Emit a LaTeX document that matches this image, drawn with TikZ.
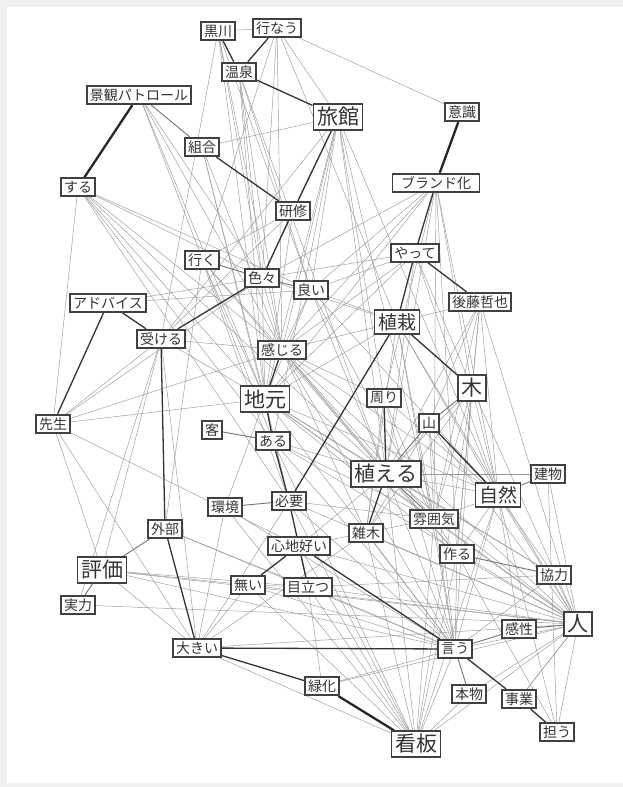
\documentclass[tikz,border=0pt]{standalone}
\usepackage{fontspec}
\setmainfont{Noto Sans CJK JP}
\usetikzlibrary{backgrounds}
\tikzset{
  wd/.style={draw=black!75, line width=1.8pt, fill=white, inner xsep=3pt, inner ysep=2.8pt, font=\fontsize{14}{14}\selectfont, text=black!80},
  bg/.style={wd, inner xsep=3.5pt, inner ysep=3pt, font=\fontsize{21}{21}\selectfont},
  md/.style={wd, inner xsep=3.5pt, inner ysep=3pt, font=\fontsize{19}{19}\selectfont},
  ew/.style={draw=gray!80, line width=0.45pt},
  em/.style={draw=black!55, line width=0.9pt},
  es/.style={draw=black!80, line width=1.3pt},
  et/.style={draw=black!85, line width=2.3pt}
}
\begin{document}
\begin{tikzpicture}[x=1pt,y=-1pt]
\useasboundingbox (0,0) rectangle (623,787);
% nodes
\node[wd] (kurokawa) at (218,31) {黒川};
\node[wd] (okonau) at (277,28) {行なう};
\node[wd] (onsen) at (239,72) {温泉};
\node[wd] (keikan) at (139,95) {景観パトロール};
\node[bg] (ryokan) at (338,117) {旅館};
\node[wd] (ishiki) at (462,112) {意識};
\node[wd] (kumiai) at (202,147) {組合};
\node[wd, minimum width=87pt] (brand) at (436,183) {ブランド化\hspace{8pt}};
\node[wd] (suru) at (78,187) {する};
\node[wd] (kenshu) at (293,211) {研修};
\node[wd] (yatte) at (415,253) {やって};
\node[wd] (iku) at (202,260) {行く};
\node[wd] (iroiro) at (262,278) {色々};
\node[wd] (yoi) at (311,290) {良い};
\node[wd] (advice) at (108,303) {アドバイス};
\node[wd] (ukeru) at (161,339) {受ける};
\node[wd] (goto) at (480,302) {後藤哲也};
\node[md] (shokusai) at (397,322) {植栽};
\node[wd] (kanjiru) at (282,350) {感じる};
\node[bg] (jimoto) at (265,399) {地元};
\node[bg] (ki) at (472,388) {木};
\node[wd] (mawari) at (384,398) {周り};
\node[wd] (sensei) at (53,424) {先生};
\node[wd] (kyaku) at (212,430) {客};
\node[wd] (aru) at (273,441) {ある};
\node[wd] (yama) at (429,423) {山};
\node[bg] (ueru) at (386,474) {植える};
\node[md] (shizen) at (498,495) {自然};
\node[wd] (tatemono) at (548,474) {建物};
\node[wd] (kankyo) at (225,507) {環境};
\node[wd] (hitsuyo) at (289,501) {必要};
\node[wd] (fun) at (434,519) {雰囲気};
\node[wd] (zoki) at (366,533) {雑木};
\node[wd] (gaibu) at (165,529) {外部};
\node[wd] (kokochi) at (299,546) {心地好い};
\node[wd] (tsukuru) at (457,554) {作る};
\node[bg] (hyoka) at (102,570) {評価};
\node[wd] (nai) at (248,585) {無い};
\node[wd] (medatsu) at (308,587) {目立つ};
\node[wd] (kyoryoku) at (554,575) {協力};
\node[wd] (jitsuryoku) at (78,605) {実力};
\node[bg] (hito) at (578,624) {人};
\node[wd] (kansei) at (519,629) {感性};
\node[wd] (ookii) at (197,648) {大きい};
\node[wd] (iu) at (455,649) {言う};
\node[wd] (ryokka) at (322,686) {緑化};
\node[wd] (honmono) at (469,694) {本物};
\node[wd] (jigyo) at (519,699) {事業};
\node[wd] (ninau) at (557,732) {担う};
\node[bg] (kanban) at (416,744) {看板};
% edges
\begin{scope}[on background layer]
\fill[gray!12] (0,0) rectangle (623,787);
\fill[white] (7,7) rectangle (623,783);
\foreach \a/\b in {kurokawa/okonau,kurokawa/iroiro,kurokawa/kanjiru,kurokawa/ukeru,kurokawa/jimoto,kurokawa/yoi,
 okonau/ishiki,okonau/iku,okonau/iroiro,okonau/kanjiru,okonau/ryokan,okonau/shokusai,
 onsen/yoi,onsen/iroiro,onsen/jimoto,onsen/kanjiru,onsen/ueru,
 keikan/iroiro,keikan/kanjiru,keikan/aru,keikan/jimoto,
 kumiai/ryokan,kumiai/jimoto,kumiai/kanjiru,kumiai/hitsuyo,
 ryokan/iroiro,ryokan/kanjiru,ryokan/jimoto,ryokan/yoi,ryokan/ukeru,ryokan/ueru,ryokan/fun,ryokan/mawari,ryokan/shizen,ryokan/aru,
 suru/sensei,suru/iroiro,suru/yoi,suru/kanjiru,suru/jimoto,suru/aru,suru/hitsuyo,suru/ueru,
 kenshu/ukeru,kenshu/iku,kenshu/jimoto,
 iku/jimoto,iku/kanjiru,iku/hitsuyo,iku/gaibu,iku/ueru,
 brand/jimoto,brand/kanjiru,brand/ueru,brand/shizen,brand/ki,brand/yoi,brand/iroiro,brand/mawari,brand/fun,brand/tsukuru,
 yatte/jimoto,yatte/kanjiru,yatte/ueru,yatte/shizen,yatte/ki,yatte/iroiro,yatte/yoi,
 goto/shokusai,goto/shizen,goto/ueru,goto/ki,goto/tsukuru,goto/fun,goto/hito,goto/yama,
 shokusai/jimoto,shokusai/kanjiru,shokusai/fun,shokusai/shizen,shokusai/zoki,shokusai/iu,shokusai/hito,shokusai/yoi,shokusai/iroiro,
 iroiro/kanjiru,iroiro/jimoto,iroiro/advice,iroiro/sensei,
 yoi/jimoto,yoi/kanjiru,yoi/ueru,yoi/shizen,yoi/fun,advice/yoi,
 ukeru/sensei,ukeru/hyoka,ukeru/ookii,ukeru/kanjiru,ukeru/jitsuryoku,ukeru/jimoto,
 sensei/jimoto,sensei/kanjiru,sensei/kokochi,sensei/ookii,sensei/hyoka,
 kanjiru/ueru,kanjiru/fun,kanjiru/shizen,kanjiru/hito,kanjiru/mawari,kanjiru/zoki,kanjiru/tsukuru,kanjiru/iu,
 jimoto/ueru,jimoto/fun,jimoto/shizen,jimoto/hito,jimoto/iu,jimoto/tsukuru,jimoto/hitsuyo,jimoto/kyoryoku,jimoto/kankyo,
 ki/shizen,ki/ueru,ki/fun,ki/hito,ki/iu,ki/tsukuru,ki/zoki,ki/kanban,
 mawari/zoki,mawari/fun,mawari/shizen,mawari/iu,
 yama/fun,yama/zoki,yama/iu,yama/hito,
 aru/ueru,aru/fun,aru/hito,aru/iu,aru/kanban,
 ueru/shizen,ueru/hito,ueru/iu,ueru/tsukuru,ueru/kanban,ueru/kokochi,ueru/kyoryoku,
 shizen/fun,shizen/hito,shizen/iu,shizen/tsukuru,shizen/kyoryoku,shizen/kanban,shizen/ninau,shizen/kansei,
 tatemono/hito,tatemono/ueru,tatemono/ninau,
 kankyo/ookii,kankyo/iu,kankyo/kanban,
 hitsuyo/iu,hitsuyo/hito,hitsuyo/kanban,hitsuyo/ookii,hitsuyo/fun,
 fun/hito,fun/iu,fun/tsukuru,fun/kanban,fun/kokochi,
 zoki/iu,zoki/hito,zoki/kanban,zoki/ookii,
 gaibu/iu,gaibu/medatsu,
 kokochi/hito,kokochi/kanban,
 tsukuru/hito,tsukuru/iu,tsukuru/kanban,tsukuru/ninau,
 hyoka/nai,hyoka/medatsu,hyoka/iu,hyoka/ookii,hyoka/hito,
 nai/medatsu,nai/hito,nai/iu,nai/kanban,nai/ookii,
 medatsu/hito,medatsu/iu,medatsu/kanban,medatsu/kyoryoku,
 kyoryoku/hito,kyoryoku/iu,jitsuryoku/hito,
 hito/iu,hito/ninau,hito/ryokka,hito/kanban,hito/jigyo,
 ookii/kanban,ookii/hito,iu/kanban,iu/ryokka,ryokka/medatsu,
 honmono/kanban,honmono/hito,jigyo/hito}
  \draw[ew] (\a) -- (\b);
\foreach \a/\b in {keikan/kumiai,ki/yama,yama/ueru,shizen/tatemono,iku/iroiro,iroiro/yoi,kyaku/aru,kankyo/hitsuyo,gaibu/hyoka,hyoka/jitsuryoku,iu/kansei,kansei/hito,iu/honmono,tsukuru/kyoryoku,kokochi/medatsu,ueru/fun}
  \draw[em] (\a) -- (\b);
\foreach \a/\b in {kurokawa/onsen,okonau/onsen,onsen/ryokan,kumiai/kenshu,ryokan/kenshu,kenshu/iroiro,brand/yatte,yatte/shokusai,yatte/goto,shokusai/ki,yama/shizen,mawari/ueru,ueru/zoki,shokusai/hitsuyo,iroiro/ukeru,advice/ukeru,advice/sensei,kanjiru/jimoto,jimoto/aru,aru/hitsuyo,hitsuyo/medatsu,kokochi/nai,kokochi/iu,ukeru/gaibu,gaibu/ookii,ookii/iu,ookii/ryokka,iu/jigyo,jigyo/ninau}
  \draw[es] (\a) -- (\b);
\foreach \a/\b in {keikan/suru,ishiki/brand,ryokka/kanban}
  \draw[et] (\a) -- (\b);
\end{scope}
\end{tikzpicture}
\end{document}
